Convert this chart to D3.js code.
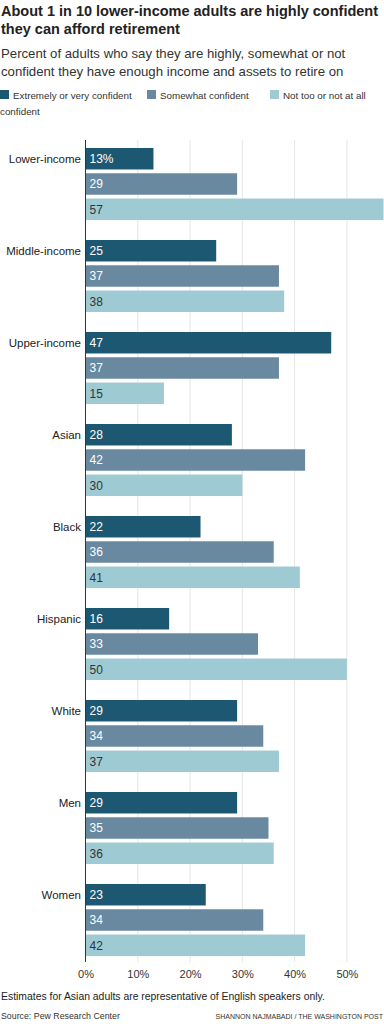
<!DOCTYPE html>
<html><head><meta charset="utf-8">
<script src="https://cdn.jsdelivr.net/npm/d3@7"></script>
<style>
body{margin:0;background:#fff;}
svg{display:block;font-family:"Liberation Sans",Arial,sans-serif;}
</style></head>
<body><svg id="c" width="384" height="1024"></svg>
<script>
const categories = ["Lower-income","Middle-income","Upper-income","Asian","Black","Hispanic","White","Men","Women"];
const seriesNames = ["Extremely or very confident","Somewhat confident","Not too or not at all confident"];
const extremely = [13,25,47,28,22,16,29,29,23];
const somewhat  = [29,37,37,42,36,33,34,35,34];
const notToo    = [57,38,15,30,41,50,37,36,42];
const tickValues = [0,10,20,30,40,50];
const colors = ["#1d5873","#6889a0","#9ecbd3"];
const labelColors = ["#fff","#fff","#333"];

const seriesVals = [extremely, somewhat, notToo];
const svg = d3.select("#c");

// Title
svg.append("text").attr("x",1).attr("y",16).attr("font-size",14.5).attr("font-weight","bold").attr("fill","#222")
  .text("About 1 in 10 lower-income adults are highly confident");
svg.append("text").attr("x",1).attr("y",34).attr("font-size",14.5).attr("font-weight","bold").attr("fill","#222")
  .text("they can afford retirement");
svg.append("text").attr("x",1).attr("y",58).attr("font-size",13.2).attr("fill","#333")
  .text("Percent of adults who say they are highly, somewhat or not");
svg.append("text").attr("x",1).attr("y",76).attr("font-size",13.2).attr("fill","#333")
  .text("confident they have enough income and assets to retire on");

// Legend
const legX = [0,147,270];
const legendTexts = ["Extremely or very confident","Somewhat confident","Not too or not at all"];
legendTexts.forEach((t,i)=>{
  svg.append("rect").attr("x",legX[i]).attr("y",90).attr("width",9).attr("height",9).attr("fill",colors[i]);
  svg.append("text").attr("x",legX[i]+13).attr("y",98.5).attr("font-size",9.8).attr("fill","#333").text(t);
});
svg.append("text").attr("x",0).attr("y",115).attr("font-size",9.8).attr("fill","#333").text("confident");

const x = d3.scaleLinear().domain([0,57]).range([85.5,383.5]);
const y = d3.scaleBand().domain(categories).range([148,148+9*92]).padding(0);
const yInner = d3.scaleBand().domain(d3.range(3)).range([0,72]).paddingInner(0.15);

const plotTop = 140, plotBottom = 962;
// grid
svg.append("g").selectAll("line").data(tickValues.filter(d=>d>0)).join("line")
  .attr("x1",d=>x(d)).attr("x2",d=>x(d)).attr("y1",plotTop).attr("y2",plotBottom)
  .attr("stroke","#e6e6e6").attr("stroke-width",1);

// axis labels
const axis = d3.axisBottom(x).tickValues(tickValues).tickFormat(d=>d+"%").tickSize(0);
const ag = svg.append("g").attr("transform",`translate(0,${plotBottom})`).call(axis);
ag.select(".domain").remove();
ag.selectAll("text").attr("font-size",11).attr("fill","#333").attr("dy","1.2em").attr("font-family","Liberation Sans, Arial, sans-serif");

// bars
const groups = svg.append("g").selectAll("g").data(categories).join("g")
  .attr("transform",d=>`translate(0,${y(d)})`);
groups.each(function(cat,ci){
  const g = d3.select(this);
  seriesVals.forEach((arr,si)=>{
    const v = arr[ci];
    g.append("rect").attr("x",x(0)).attr("y",yInner(si)).attr("width",x(v)-x(0)).attr("height",yInner.bandwidth())
      .attr("fill",colors[si]);
    g.append("text").attr("x",x(0)+4).attr("y",yInner(si)+yInner.bandwidth()/2).attr("dy","0.36em")
      .attr("font-size",12).attr("fill",labelColors[si])
      .text(ci===0&&si===0 ? v+"%" : v);
  });
  g.append("text").attr("x",81).attr("y",yInner(0)+yInner.bandwidth()/2).attr("dy","0.36em")
    .attr("text-anchor","end").attr("font-size",11.5).attr("fill","#222").text(cat);
});

// zero line
svg.append("line").attr("x1",x(0)).attr("x2",x(0)).attr("y1",plotTop).attr("y2",plotBottom)
  .attr("stroke","#333").attr("stroke-width",1);

// notes
svg.append("text").attr("x",1).attr("y",1000).attr("font-size",10.4).attr("fill","#222")
  .text("Estimates for Asian adults are representative of English speakers only.");
svg.append("text").attr("x",1).attr("y",1019).attr("font-size",8.8).attr("fill","#333")
  .text("Source: Pew Research Center");
svg.append("text").attr("x",383).attr("y",1019).attr("font-size",7).attr("text-anchor","end").attr("fill","#333")
  .text("SHANNON NAJMABADI / THE WASHINGTON POST");
</script></body></html>
